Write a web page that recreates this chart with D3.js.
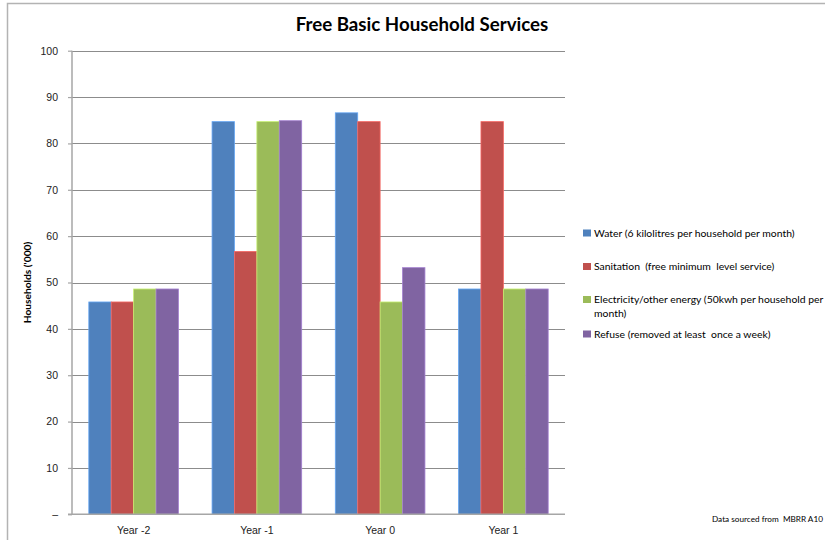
<!DOCTYPE html>
<html>
<head>
<meta charset="utf-8">
<script src="https://cdn.jsdelivr.net/npm/d3@7"></script>
<style>
  html, body { margin: 0; padding: 0; background: #fff; }
  svg { display: block; }
</style>
</head>
<body>
<svg id="chart" width="825" height="540"></svg>
<script>
// Categories and series (households, thousands)
const categories = ["Year -2", "Year -1", "Year 0", "Year 1"];
const seriesNames = [
  "Water (6 kilolitres per household per month)",
  "Sanitation  (free minimum  level service)",
  "Electricity/other energy (50kwh  per household per month)",
  "Refuse (removed at least  once a week)"
];
const water       = [45.8, 84.7, 86.6, 48.6];
const sanitation  = [45.8, 56.7, 84.7, 84.7];
const electricity = [48.6, 84.7, 45.8, 48.6];
const refuse      = [48.6, 84.9, 53.2, 48.6];
const seriesColors = ["#4F81BD", "#C0504D", "#9BBB59", "#8064A2"];
const yTicks = [0, 10, 20, 30, 40, 50, 60, 70, 80, 90, 100];
const yTickLabels = ["–", "10", "20", "30", "40", "50", "60", "70", "80", "90", "100"];

const seriesValues = [water, sanitation, electricity, refuse];

const svg = d3.select("#chart");
const plot = { left: 72, right: 565, top: 50.7, bottom: 514.3 };

// Outer chart border
svg.append("rect")
  .attr("x", 7.5).attr("y", 3.5)
  .attr("width", 830).attr("height", 545)
  .attr("fill", "none").attr("stroke", "#b3b3b3").attr("stroke-width", 1.5);

// Title
svg.append("text")
  .attr("x", 422).attr("y", 31)
  .attr("text-anchor", "middle")
  .attr("font-family", "Lato, 'Open Sans', sans-serif")
  .attr("font-weight", "bold")
  .attr("font-size", 18.7)
  .attr("fill", "#000")
  .text("Free Basic Household Services");

// Excel-style gap width 150%: each category = 4 bars + 1.5 bar widths of gap
const x0 = d3.scaleBand().domain(categories)
  .range([plot.left, plot.right])
  .paddingInner(1.5 / 5.5)
  .paddingOuter(0.75 / 5.5);
const x1 = d3.scaleBand().domain(d3.range(seriesNames.length))
  .range([0, x0.bandwidth()]);

const y = d3.scaleLinear().domain([0, 100]).range([plot.bottom, plot.top]);

// Gridlines
svg.append("g").selectAll("line")
  .data(yTicks.filter(d => d > 0))
  .join("line")
  .attr("x1", plot.left).attr("x2", plot.right)
  .attr("y1", d => Math.round(y(d)) + 0.5).attr("y2", d => Math.round(y(d)) + 0.5)
  .attr("stroke", "#8c8c8c").attr("stroke-width", 1.2);

// Bars
const groups = svg.append("g").selectAll("g")
  .data(categories)
  .join("g")
  .attr("transform", d => `translate(${x0(d)},0)`);

groups.selectAll("rect")
  .data((c, i) => seriesValues.map((vals, s) => ({ s, v: vals[i] })))
  .join("rect")
  .attr("x", d => x1(d.s))
  .attr("y", d => y(d.v))
  .attr("width", x1.bandwidth())
  .attr("height", d => y(0) - y(d.v))
  .attr("fill", d => seriesColors[d.s])
  .attr("stroke", d => d3.color(seriesColors[d.s]).brighter(0.7))
  .attr("stroke-width", 0.8);

// Y axis
const yAxis = d3.axisLeft(y)
  .tickValues(yTicks)
  .tickFormat((d, i) => yTickLabels[i])
  .tickSize(4)
  .tickPadding(10);
const gy = svg.append("g")
  .attr("transform", `translate(${plot.left},0)`)
  .call(yAxis);
gy.select(".domain").attr("stroke", "#a6a6a6").attr("stroke-width", 1.5)
  .attr("d", `M0,${plot.top}V${plot.bottom}`);
gy.selectAll(".tick line").attr("stroke", "#a6a6a6").attr("stroke-width", 1.2);
gy.selectAll(".tick text")
  .attr("font-family", "'Liberation Sans', Arial, sans-serif")
  .attr("font-size", 10.5)
  .attr("fill", "#222");

// X axis
const xAxis = d3.axisBottom(x0).tickSize(0).tickPadding(12);
const gx = svg.append("g")
  .attr("transform", `translate(0,${plot.bottom})`)
  .call(xAxis);
gx.select(".domain").attr("stroke", "#a6a6a6").attr("stroke-width", 1.5)
  .attr("d", `M${plot.left - 4},0H${plot.right}`);
gx.selectAll(".tick text")
  .attr("font-family", "'Liberation Sans', Arial, sans-serif")
  .attr("font-size", 10.5)
  .attr("fill", "#222");

// Y axis title
svg.append("text")
  .attr("transform", `translate(31,${(plot.top + plot.bottom) / 2}) rotate(-90)`)
  .attr("text-anchor", "middle")
  .attr("font-family", "Lato, 'Open Sans', sans-serif")
  .attr("font-weight", "bold")
  .attr("font-size", 10.2)
  .attr("fill", "#000")
  .text("Households ('000)");

// Legend
const legendLines = [
  ["Water (6 kilolitres per household per month)"],
  ["Sanitation  (free minimum  level service)"],
  ["Electricity/other energy (50kwh per household per", "month)"],
  ["Refuse (removed at least  once a week)"]
];
const legendY = [236.5, 270, 303, 337.5];
const legend = svg.append("g").selectAll("g")
  .data(seriesNames)
  .join("g")
  .attr("transform", (d, i) => `translate(583,${legendY[i]})`);
legend.append("rect")
  .attr("x", 0).attr("y", -7)
  .attr("width", 8).attr("height", 7)
  .attr("fill", (d, i) => seriesColors[i]);
legend.append("text")
  .attr("x", 11).attr("y", 0)
  .attr("font-family", "Lato, 'Open Sans', sans-serif")
  .attr("font-size", 10.4)
  .attr("fill", "#000")
  .style("white-space", "pre")
  .selectAll("tspan")
  .data((d, i) => legendLines[i])
  .join("tspan")
  .attr("x", 11)
  .attr("dy", (d, j) => j === 0 ? 0 : 13.5)
  .text(d => d);

// Source note
svg.append("text")
  .attr("x", 712).attr("y", 522)
  .attr("font-family", "Lato, 'Open Sans', sans-serif")
  .attr("font-size", 8.2)
  .attr("fill", "#000")
  .style("white-space", "pre")
  .text("Data sourced from  MBRR A10");
</script>
</body>
</html>
